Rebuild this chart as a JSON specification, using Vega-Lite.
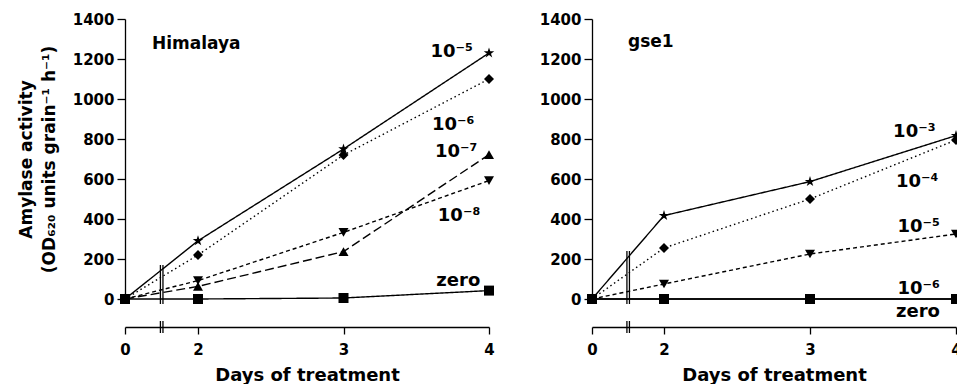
{
  "$schema": "https://vega.github.io/schema/vega-lite/v6.json",
  "padding": {"left": 17, "top": 12, "right": 0, "bottom": 0},
  "background": "white",
  "bounds": "flush",
  "spacing": 103,
  "config": {
    "view": {"stroke": null},
    "font": "DejaVu Sans",
    "axis": {
      "grid": false,
      "domainColor": "black",
      "tickColor": "black",
      "domainWidth": 1.3,
      "tickWidth": 1.3,
      "labelColor": "black",
      "titleColor": "black",
      "labelFont": "DejaVu Sans",
      "titleFont": "DejaVu Sans",
      "labelFontSize": 15,
      "labelFontWeight": "bold",
      "labelOverlap": false,
      "labelFlush": false,
      "format": "d",
      "titleFontSize": 17,
      "titleFontWeight": "bold"
    }
  },
  "datasets": {
    "points": [
      {"panel": "Himalaya", "series": "10⁻⁵", "day": 0, "value": 0},
      {"panel": "Himalaya", "series": "10⁻⁵", "day": 2, "value": 291},
      {"panel": "Himalaya", "series": "10⁻⁵", "day": 3, "value": 750},
      {"panel": "Himalaya", "series": "10⁻⁵", "day": 4, "value": 1230},
      {"panel": "Himalaya", "series": "10⁻⁶", "day": 0, "value": 0},
      {"panel": "Himalaya", "series": "10⁻⁶", "day": 2, "value": 220},
      {"panel": "Himalaya", "series": "10⁻⁶", "day": 3, "value": 720},
      {"panel": "Himalaya", "series": "10⁻⁶", "day": 4, "value": 1100},
      {"panel": "Himalaya", "series": "10⁻⁷", "day": 0, "value": 0},
      {"panel": "Himalaya", "series": "10⁻⁷", "day": 2, "value": 63},
      {"panel": "Himalaya", "series": "10⁻⁷", "day": 3, "value": 237},
      {"panel": "Himalaya", "series": "10⁻⁷", "day": 4, "value": 722},
      {"panel": "Himalaya", "series": "10⁻⁸", "day": 0, "value": 0},
      {"panel": "Himalaya", "series": "10⁻⁸", "day": 2, "value": 92},
      {"panel": "Himalaya", "series": "10⁻⁸", "day": 3, "value": 333},
      {"panel": "Himalaya", "series": "10⁻⁸", "day": 4, "value": 592},
      {"panel": "Himalaya", "series": "zero", "day": 0, "value": 0},
      {"panel": "Himalaya", "series": "zero", "day": 2, "value": 0},
      {"panel": "Himalaya", "series": "zero", "day": 3, "value": 5},
      {"panel": "Himalaya", "series": "zero", "day": 4, "value": 42},
      {"panel": "gse1", "series": "10⁻³", "day": 0, "value": 0},
      {"panel": "gse1", "series": "10⁻³", "day": 2, "value": 417},
      {"panel": "gse1", "series": "10⁻³", "day": 3, "value": 587},
      {"panel": "gse1", "series": "10⁻³", "day": 4, "value": 817},
      {"panel": "gse1", "series": "10⁻⁴", "day": 0, "value": 0},
      {"panel": "gse1", "series": "10⁻⁴", "day": 2, "value": 255},
      {"panel": "gse1", "series": "10⁻⁴", "day": 3, "value": 500},
      {"panel": "gse1", "series": "10⁻⁴", "day": 4, "value": 795},
      {"panel": "gse1", "series": "10⁻⁵", "day": 0, "value": 0},
      {"panel": "gse1", "series": "10⁻⁵", "day": 2, "value": 75},
      {"panel": "gse1", "series": "10⁻⁵", "day": 3, "value": 225},
      {"panel": "gse1", "series": "10⁻⁵", "day": 4, "value": 325},
      {"panel": "gse1", "series": "10⁻⁶", "day": 0, "value": 0},
      {"panel": "gse1", "series": "10⁻⁶", "day": 2, "value": 0},
      {"panel": "gse1", "series": "10⁻⁶", "day": 3, "value": 0},
      {"panel": "gse1", "series": "10⁻⁶", "day": 4, "value": 0},
      {"panel": "gse1", "series": "zero", "day": 0, "value": 0},
      {"panel": "gse1", "series": "zero", "day": 2, "value": 0},
      {"panel": "gse1", "series": "zero", "day": 3, "value": 0},
      {"panel": "gse1", "series": "zero", "day": 4, "value": 0}
    ],
    "labels": [
      {"panel": "Himalaya", "text": "10⁻⁵", "day": 3.89, "value": 1210},
      {"panel": "Himalaya", "text": "10⁻⁶", "day": 3.9, "value": 845},
      {"panel": "Himalaya", "text": "10⁻⁷", "day": 3.92, "value": 710},
      {"panel": "Himalaya", "text": "10⁻⁸", "day": 3.94, "value": 390},
      {"panel": "Himalaya", "text": "zero", "day": 3.94, "value": 65},
      {"panel": "gse1", "text": "10⁻³", "day": 3.86, "value": 810},
      {"panel": "gse1", "text": "10⁻⁴", "day": 3.88, "value": 560},
      {"panel": "gse1", "text": "10⁻⁵", "day": 3.89, "value": 335},
      {"panel": "gse1", "text": "10⁻⁶", "day": 3.89, "value": 25},
      {"panel": "gse1", "text": "zero", "day": 3.89, "value": -90}
    ],
    "names": [
      {"panel": "Himalaya", "day": 0.74, "value": 1250},
      {"panel": "gse1", "day": 1.0, "value": 1260}
    ],
    "breaks": [
      {"panel": "Himalaya", "day": 0.97, "lo": -25, "hi": 170},
      {"panel": "Himalaya", "day": 1.04, "lo": -25, "hi": 170},
      {"panel": "Himalaya", "day": 0.97, "lo": -170, "hi": -110},
      {"panel": "Himalaya", "day": 1.04, "lo": -170, "hi": -110},
      {"panel": "gse1", "day": 0.97, "lo": -25, "hi": 240},
      {"panel": "gse1", "day": 1.04, "lo": -25, "hi": 240},
      {"panel": "gse1", "day": 0.97, "lo": -170, "hi": -110},
      {"panel": "gse1", "day": 1.04, "lo": -170, "hi": -110}
    ]
  },
  "resolve": {"scale": {"shape": "independent", "strokeDash": "independent"}},
  "hconcat": [
    {
      "width": 364,
      "height": 280,
      "layer": [
        {
          "data": {"name": "points"},
          "transform": [{"filter": "datum.panel === 'Himalaya'"}],
          "mark": {"type": "line", "color": "black", "strokeWidth": 1.4},
          "encoding": {
            "x": {"field": "day", "type": "quantitative",
              "scale": {"domain": [0, 2, 4], "range": [0, 73, 364], "nice": false, "zero": false},
              "axis": {"values": [0, 2, 3, 4], "tickCount": 10, "offset": 28, "tickSize": 7, "labelPadding": 8, "labelOverlap": false, "title": "Days of treatment", "titlePadding": 9, "titleFontSize": 18}},
            "y": {"field": "value", "type": "quantitative",
              "scale": {"domain": [0, 1400], "nice": false},
              "axis": {"values": [0, 200, 400, 600, 800, 1000, 1200, 1400], "tickCount": 10, "tickSize": 8, "labelPadding": 3, "labelOverlap": false, "labelBound": false,
                "title": ["Amylase activity", "(OD₆₂₀ units grain⁻¹ h⁻¹)"], "titleLineHeight": 23, "titlePadding": 14}},
            "detail": {"field": "series"},
            "strokeDash": {"field": "series", "type": "nominal", "legend": null,
              "scale": {"domain": ["10⁻⁵", "10⁻⁶", "10⁻⁷", "10⁻⁸", "zero"], "range": [[1, 0], [1.5, 3], [9, 4], [4, 3], [1, 0]]}}
          }
        },
        {
          "data": {"name": "points"},
          "transform": [{"filter": "datum.panel === 'Himalaya'"}],
          "mark": {"type": "point", "filled": true, "color": "black", "opacity": 1, "size": 100},
          "encoding": {
            "x": {"field": "day", "type": "quantitative"},
            "y": {"field": "value", "type": "quantitative"},
            "shape": {"field": "series", "type": "nominal", "legend": null,
              "scale": {"domain": ["10⁻⁵", "10⁻⁶", "10⁻⁷", "10⁻⁸", "zero"],
                "range": ["M0,-1.1L0.25,-0.34L1.05,-0.34L0.4,0.13L0.65,0.89L0,0.42L-0.65,0.89L-0.4,0.13L-1.05,-0.34L-0.25,-0.34Z", "diamond", "triangle-up", "triangle-down", "square"]}}
          }
        },
        {
          "data": {"name": "breaks"},
          "transform": [{"filter": "datum.panel === 'Himalaya'"}],
          "mark": {"type": "rule", "color": "black", "strokeWidth": 1.3},
          "encoding": {
            "x": {"field": "day", "type": "quantitative"},
            "y": {"field": "lo", "type": "quantitative"},
            "y2": {"field": "hi"}
          }
        },
        {
          "data": {"name": "labels"},
          "transform": [{"filter": "datum.panel === 'Himalaya'"}],
          "mark": {"type": "text", "align": "right", "baseline": "alphabetic", "fontSize": 18, "fontWeight": "bold", "color": "black"},
          "encoding": {
            "x": {"field": "day", "type": "quantitative"},
            "y": {"field": "value", "type": "quantitative"},
            "text": {"field": "text"}
          }
        },
        {
          "data": {"name": "names"},
          "transform": [{"filter": "datum.panel === 'Himalaya'"}],
          "mark": {"type": "text", "align": "left", "baseline": "alphabetic", "fontSize": 17, "fontWeight": "bold", "color": "black"},
          "encoding": {
            "x": {"field": "day", "type": "quantitative"},
            "y": {"field": "value", "type": "quantitative"},
            "text": {"field": "panel"}
          }
        }
      ]
    },
    {
      "width": 364,
      "height": 280,
      "layer": [
        {
          "data": {"name": "points"},
          "transform": [{"filter": "datum.panel === 'gse1'"}],
          "mark": {"type": "line", "color": "black", "strokeWidth": 1.4},
          "encoding": {
            "x": {"field": "day", "type": "quantitative",
              "scale": {"domain": [0, 2, 4], "range": [0, 72, 364], "nice": false, "zero": false},
              "axis": {"values": [0, 2, 3, 4], "tickCount": 10, "offset": 28, "tickSize": 7, "labelPadding": 8, "labelOverlap": false, "title": "Days of treatment", "titlePadding": 9, "titleFontSize": 18}},
            "y": {"field": "value", "type": "quantitative",
              "scale": {"domain": [0, 1400], "nice": false},
              "axis": {"values": [0, 200, 400, 600, 800, 1000, 1200, 1400], "tickCount": 10, "tickSize": 8, "labelPadding": 3, "labelOverlap": false, "labelBound": false, "title": null}},
            "detail": {"field": "series"},
            "strokeDash": {"field": "series", "type": "nominal", "legend": null,
              "scale": {"domain": ["10⁻³", "10⁻⁴", "10⁻⁵", "10⁻⁶", "zero"], "range": [[1, 0], [1.5, 3], [4, 3], [1, 0], [1, 0]]}}
          }
        },
        {
          "data": {"name": "points"},
          "transform": [{"filter": "datum.panel === 'gse1'"}],
          "mark": {"type": "point", "filled": true, "color": "black", "opacity": 1, "size": 100},
          "encoding": {
            "x": {"field": "day", "type": "quantitative"},
            "y": {"field": "value", "type": "quantitative"},
            "shape": {"field": "series", "type": "nominal", "legend": null,
              "scale": {"domain": ["10⁻³", "10⁻⁴", "10⁻⁵", "10⁻⁶", "zero"],
                "range": ["M0,-1.1L0.25,-0.34L1.05,-0.34L0.4,0.13L0.65,0.89L0,0.42L-0.65,0.89L-0.4,0.13L-1.05,-0.34L-0.25,-0.34Z", "diamond", "triangle-down", "circle", "square"]}}
          }
        },
        {
          "data": {"name": "breaks"},
          "transform": [{"filter": "datum.panel === 'gse1'"}],
          "mark": {"type": "rule", "color": "black", "strokeWidth": 1.3},
          "encoding": {
            "x": {"field": "day", "type": "quantitative"},
            "y": {"field": "lo", "type": "quantitative"},
            "y2": {"field": "hi"}
          }
        },
        {
          "data": {"name": "labels"},
          "transform": [{"filter": "datum.panel === 'gse1'"}],
          "mark": {"type": "text", "align": "right", "baseline": "alphabetic", "fontSize": 18, "fontWeight": "bold", "color": "black"},
          "encoding": {
            "x": {"field": "day", "type": "quantitative"},
            "y": {"field": "value", "type": "quantitative"},
            "text": {"field": "text"}
          }
        },
        {
          "data": {"name": "names"},
          "transform": [{"filter": "datum.panel === 'gse1'"}],
          "mark": {"type": "text", "align": "left", "baseline": "alphabetic", "fontSize": 17, "fontWeight": "bold", "color": "black"},
          "encoding": {
            "x": {"field": "day", "type": "quantitative"},
            "y": {"field": "value", "type": "quantitative"},
            "text": {"field": "panel"}
          }
        }
      ]
    }
  ]
}
